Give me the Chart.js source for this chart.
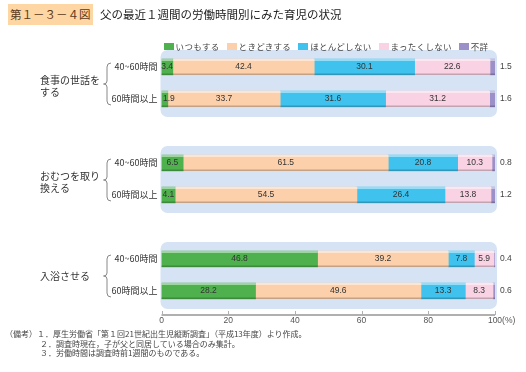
<!DOCTYPE html>
<html lang="ja">
<head>
<meta charset="utf-8">
<script src="https://cdn.jsdelivr.net/npm/chart.js@4"></script>
<style>
  body { margin: 0; background: #fff; font-family: "Noto Sans CJK JP", "Noto Sans", sans-serif; }
  #wrap { position: relative; width: 526px; height: 372px; overflow: hidden; }
  #chart { position: absolute; left: 0; top: 0; }
  .figno { position: absolute; left: 8px; top: 4px; height: 21px; line-height: 21px; padding: 0 2px;
           background: #fdd6a3; color: #5a3a20; font-size: 11.5px; }
  .title { position: absolute; left: 100px; top: 4px; line-height: 21px; font-size: 11.5px; color: #222; }
  #legend { position: absolute; left: 161px; width: 330px; top: 40px; display: flex; justify-content: center;
            font-size: 8.5px; color: #444; letter-spacing: 0.3px; }
  #legend span.item { display: flex; align-items: center; margin-right: 7px; white-space: nowrap; }
  #legend span.item:last-child { margin-right: 0; }
  #legend i { display: inline-block; width: 10px; height: 7px; margin-right: 2px; }
  .notes { position: absolute; left: 5px; top: 329px; font-size: 8px; color: #444; line-height: 9.6px; }
  .notes div { white-space: nowrap; }
</style>
</head>
<body>
<div id="wrap">
  <canvas id="chart" width="526" height="372"></canvas>
  <div class="figno">第１－３－４図</div>
  <div class="title">父の最近１週間の労働時間別にみた育児の状況</div>
  <div id="legend"></div>
  <div class="notes">
    <div>（備考）１．厚生労働省「第１回21世紀出生児縦断調査」（平成13年度）より作成。</div>
    <div style="padding-left:35px">２．調査時現在，子が父と同居している場合のみ集計。</div>
    <div style="padding-left:35px">３．労働時間は調査時前1週間のものである。</div>
  </div>
</div>
<script>
// 項目と区分
const groups = ['食事の世話を\nする', 'おむつを取り\n換える', '入浴させる'];
const hours = ['40~60時間', '60時間以上'];
const series = ['いつもする', 'ときどきする', 'ほとんどしない', 'まったくしない', '不詳'];

// 値（%）: 食事40-60, 食事60+, おむつ40-60, おむつ60+, 入浴40-60, 入浴60+
const itsumo = [3.4, 1.9, 6.5, 4.1, 46.8, 28.2];
const tokidoki = [42.4, 33.7, 61.5, 54.5, 39.2, 49.6];
const hotondo = [30.1, 31.6, 20.8, 26.4, 7.8, 13.3];
const mattaku = [22.6, 31.2, 10.3, 13.8, 5.9, 8.3];
const fusho = [1.5, 1.6, 0.8, 1.2, 0.4, 0.6];

const xTicks = [0, 20, 40, 60, 80, 100];
const colors = ['#4fb14d', '#fcd0ab', '#3fc2ee', '#f9d3e3', '#9c90c9'];

// グループの間に空行を入れる
const rowLabels = [];
const pad = (arr) => {
    const out = [];
    arr.forEach((v, i) => {
        if (i > 0 && i % 2 === 0) out.push(null);
        out.push(v);
    });
    return out;
};
groups.forEach((g, i) => {
    if (i > 0) rowLabels.push('');
    hours.forEach(h => rowLabels.push(h));
});
const groupRows = groups.map((g, i) => [i * 3, i * 3 + 1]);

// 凡例
const legend = document.getElementById('legend');
series.forEach((s, i) => {
    const item = document.createElement('span');
    item.className = 'item';
    item.innerHTML = `<i style="background:${colors[i]}"></i>${s}`;
    legend.appendChild(item);
});

const panelsAndLabels = {
    id: 'panelsAndLabels',
    beforeDatasetsDraw(chart) {
        const { ctx, chartArea } = chart;
        const y = chart.scales.y;
        ctx.save();
        ctx.fillStyle = '#d6e3f4';
        groupRows.forEach(([a, b]) => {
            const top = y.getPixelForValue(a) - 17;
            const bottom = y.getPixelForValue(b) + 18;
            ctx.beginPath();
            ctx.roundRect(chartArea.left - 1, top, chartArea.right - chartArea.left + 3, bottom - top, 7);
            ctx.fill();
        });
        ctx.restore();
    },
    afterDatasetsDraw(chart) {
        const { ctx, chartArea } = chart;
        const y = chart.scales.y;
        const x = chart.scales.x;
        ctx.save();

        // バーの光沢
        chart.data.datasets.forEach((ds, d) => {
            chart.getDatasetMeta(d).data.forEach((el, i) => {
                if (ds.data[i] == null) return;
                const top = el.y - el.height / 2;
                const w = el.x - el.base;
                ctx.fillStyle = 'rgba(255,255,255,0.45)';
                ctx.fillRect(el.base, top, w, 2);
                ctx.fillStyle = 'rgba(0,0,0,0.22)';
                ctx.fillRect(el.base, top + el.height - 1.5, w, 1.5);
            });
        });

        // 数値ラベル
        ctx.font = '8.5px "Liberation Sans", Arial, sans-serif';
        ctx.textBaseline = 'middle';
        chart.data.datasets.forEach((ds, d) => {
            chart.getDatasetMeta(d).data.forEach((el, i) => {
                const v = ds.data[i];
                if (v == null) return;
                const txt = v.toFixed(1);
                if (d === series.length - 1) {
                    ctx.fillStyle = '#444';
                    ctx.textAlign = 'left';
                    ctx.fillText(txt, chartArea.right + 5, el.y);
                } else if (v < 3) {
                    ctx.fillStyle = '#333';
                    ctx.textAlign = 'left';
                    ctx.fillText(txt, el.base + 1.5, el.y);
                } else {
                    ctx.fillStyle = '#333';
                    ctx.textAlign = 'center';
                    ctx.fillText(txt, (el.base + el.x) / 2, el.y);
                }
            });
        });

        // 項目名と括弧
        ctx.fillStyle = '#333';
        ctx.strokeStyle = '#888';
        ctx.lineWidth = 1;
        ctx.textAlign = 'left';
        ctx.font = '10px "Noto Sans CJK JP", sans-serif';
        groups.forEach((g, i) => {
            const [a, b] = groupRows[i];
            const ya = y.getPixelForValue(a);
            const yb = y.getPixelForValue(b);
            const mid = (ya + yb) / 2;
            const lines = g.split('\n');
            const lh = 11.5;
            const off = lines.length > 1 ? 3 : 1;
            lines.forEach((ln, k) => {
                ctx.fillText(ln, 40, mid + off + (k - (lines.length - 1) / 2) * lh);
            });
            const t = ya - 4, bt = yb + 6, m = (t + bt) / 2;
            ctx.beginPath();
            ctx.moveTo(111, t);
            ctx.quadraticCurveTo(107, t, 107, t + 4);
            ctx.lineTo(107, m - 3);
            ctx.quadraticCurveTo(107, m, 103.5, m);
            ctx.quadraticCurveTo(107, m, 107, m + 3);
            ctx.lineTo(107, bt - 4);
            ctx.quadraticCurveTo(107, bt, 111, bt);
            ctx.stroke();
        });

        // 横軸の線
        const ay = chartArea.bottom + 8;
        ctx.strokeStyle = '#b0b0b0';
        ctx.lineWidth = 2;
        ctx.beginPath();
        ctx.moveTo(x.getPixelForValue(0), ay);
        ctx.lineTo(x.getPixelForValue(100), ay);
        ctx.stroke();
        ctx.lineWidth = 1;
        xTicks.forEach(t => {
            const px = Math.round(x.getPixelForValue(t)) + 0.5;
            ctx.beginPath();
            ctx.moveTo(px, ay - 4);
            ctx.lineTo(px, ay);
            ctx.stroke();
        });
        ctx.restore();
    },
    afterDraw(chart) {
        const { ctx } = chart;
        const x = chart.scales.x;
        ctx.save();
        ctx.font = '8.5px "Liberation Sans", Arial, sans-serif';
        const w = ctx.measureText('100').width;
        ctx.fillStyle = '#555';
        ctx.textAlign = 'left';
        ctx.textBaseline = 'top';
        ctx.fillText('(%)', x.getPixelForValue(100) + w / 2, chart.chartArea.bottom + 9);
        ctx.restore();
    }
};

const ctx = document.getElementById('chart').getContext('2d');
const chart = new Chart(ctx, {
    type: 'bar',
    data: {
        labels: rowLabels,
        datasets: [itsumo, tokidoki, hotondo, mattaku, fusho].map((arr, i) => ({
            label: series[i],
            data: pad(arr),
            backgroundColor: colors[i],
            borderWidth: 0,
            barThickness: 16
        }))
    },
    options: {
        indexAxis: 'y',
        responsive: false,
        animation: false,
        layout: { padding: { top: 51, bottom: 35, left: 0, right: 31 } },
        plugins: {
            legend: { display: false },
            tooltip: { enabled: false }
        },
        scales: {
            x: {
                stacked: true,
                min: 0,
                max: 100,
                afterBuildTicks: (scale) => { scale.ticks = xTicks.map(v => ({ value: v })); },
                afterFit: (scale) => { scale.height = 30; },
                grid: { display: false, drawTicks: false },
                border: { display: false },
                ticks: {
                    padding: 9,
                    color: '#555',
                    font: { size: 8.5, family: '"Liberation Sans", Arial, sans-serif' },
                    maxRotation: 0
                }
            },
            y: {
                stacked: true,
                afterFit: (scale) => { scale.width = 161.5; },
                grid: { display: false, drawTicks: false },
                border: { display: false },
                ticks: {
                    autoSkip: false,
                    padding: 4,
                    color: '#333',
                    font: { size: 9, family: '"Noto Sans CJK JP", sans-serif' }
                }
            }
        }
    },
    plugins: [panelsAndLabels]
});
</script>
</body>
</html>
